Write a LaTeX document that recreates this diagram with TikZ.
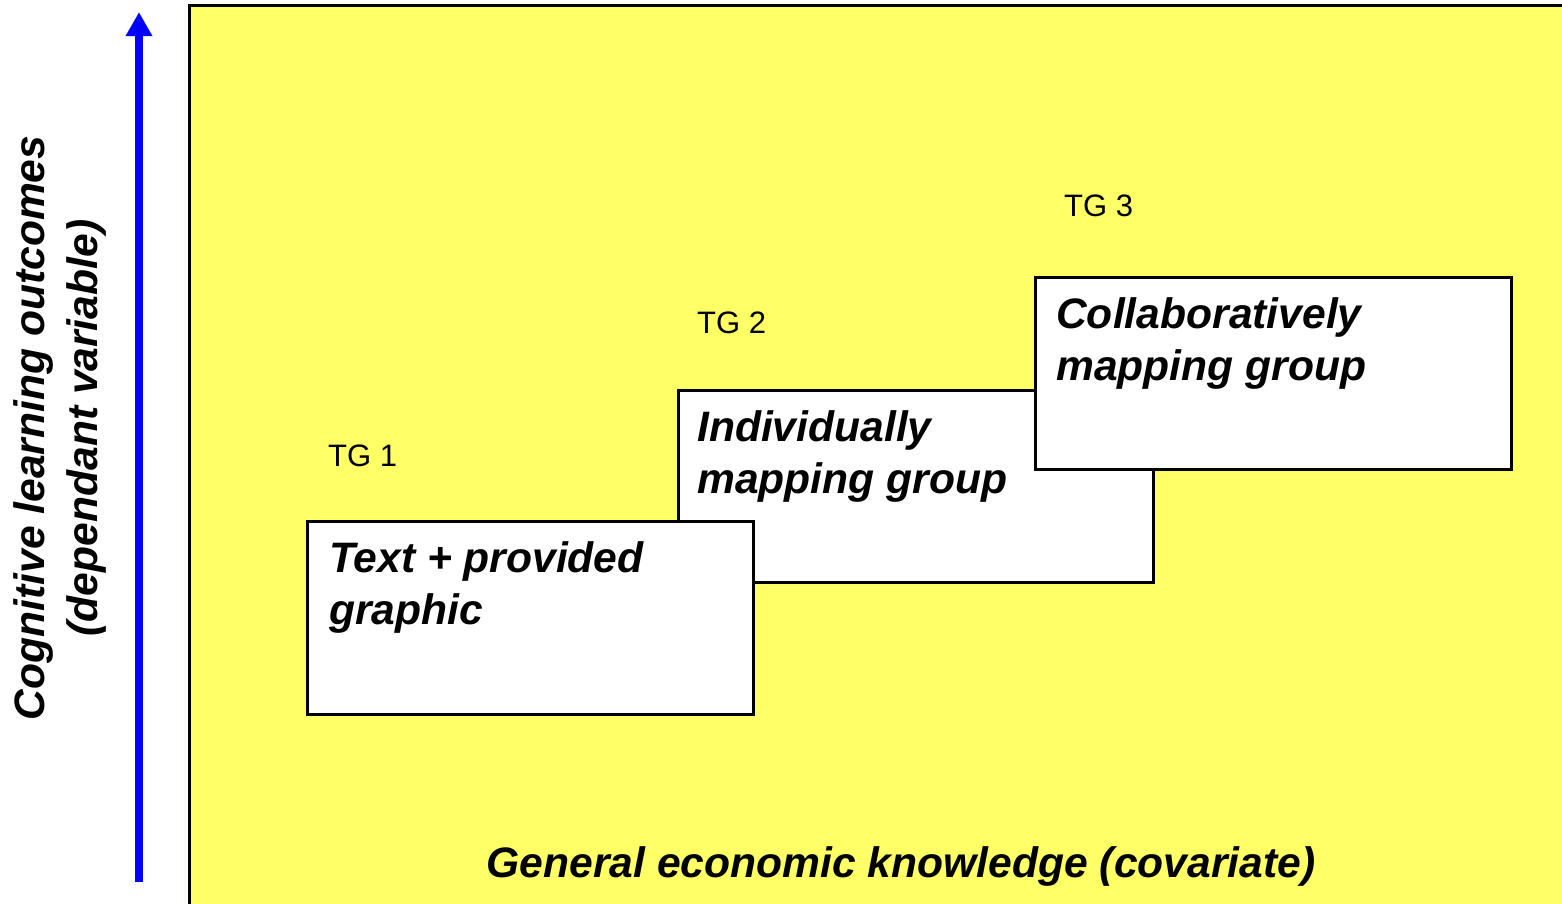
\documentclass[tikz,border=0pt]{standalone}
\usepackage{fontspec}
\setmainfont{Liberation Sans}
\usetikzlibrary{arrows.meta}
\definecolor{bgyellow}{HTML}{FFFF66}
\definecolor{axisblue}{HTML}{0000FF}
\tikzset{
  groupbox/.style={draw=black, line width=2.5pt, fill=white, anchor=north west, inner sep=0pt},
  boxtext/.style={anchor=base west, inner sep=0pt, align=left, font=\fontsize{42.6}{52}\selectfont\bfseries\itshape},
  tglabel/.style={anchor=base west, inner sep=0pt, font=\fontsize{31}{36}\selectfont},
  axislabel/.style={inner sep=0pt, align=center, font=\fontsize{42.6}{53}\selectfont\bfseries\itshape},
}
\begin{document}
\begin{tikzpicture}[x=1pt,y=-1pt]
\useasboundingbox (0,0) rectangle (1562,903);
\clip (0,0) rectangle (1562,903);
% yellow field
\fill[bgyellow] (189,5) rectangle (1600,940);
\draw[line width=3pt] (189,940) -- (189,5) -- (1600,5);
% vertical axis arrow
\coordinate (abot) at (139,882);
\coordinate (atop) at (139,12);
\draw[axisblue, line width=8pt, -{Triangle[width=25pt,length=24pt]}] (abot) -- (atop);
% axis labels
\node[axislabel, rotate=90] (ylab) at (60,428) {Cognitive learning outcomes\\(dependant variable)};
\node[axislabel, anchor=base] (xlab) at (901,877) {General economic knowledge (covariate)};
% boxes
\node[groupbox, minimum width=475pt, minimum height=192pt] (b2) at (677,389) {};
\node[groupbox, minimum width=446pt, minimum height=193pt] (b1) at (306,520) {};
\node[groupbox, minimum width=476pt, minimum height=192pt] (b3) at (1034,276) {};
% box texts (anchor = baseline of last line)
\node[boxtext] (t1) at (329,624) {Text + provided\\graphic};
\node[boxtext] (t2) at (697,493) {Individually\\mapping group};
\node[boxtext] (t3) at (1056,380) {Collaboratively\\mapping group};
% TG labels
\node[tglabel] (tg1) at (328,466) {TG 1};
\node[tglabel] (tg2) at (697,333) {TG 2};
\node[tglabel] (tg3) at (1064,216) {TG 3};
\end{tikzpicture}
\end{document}
